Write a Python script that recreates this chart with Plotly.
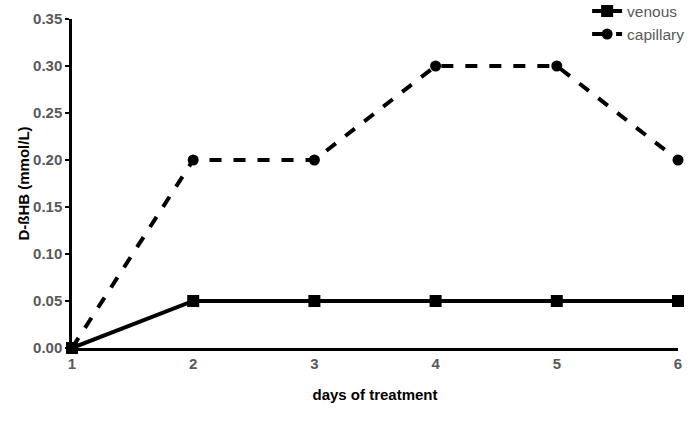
import plotly.graph_objects as go

days = [1, 2, 3, 4, 5, 6]
venous = [0.0, 0.05, 0.05, 0.05, 0.05, 0.05]
capillary = [0.0, 0.20, 0.20, 0.30, 0.30, 0.20]
y_ticks = [0.0, 0.05, 0.10, 0.15, 0.20, 0.25, 0.30, 0.35]

fig = go.Figure()
fig.add_trace(go.Scatter(x=days, y=venous, name="venous", mode="lines+markers",
                         line=dict(color="black", width=4),
                         marker=dict(symbol="square", size=12, color="black"),
                         cliponaxis=False))
fig.add_trace(go.Scatter(x=days, y=capillary, name="capillary", mode="lines+markers",
                         line=dict(color="black", width=4, dash="dash"),
                         marker=dict(symbol="circle", size=11, color="black"),
                         cliponaxis=False))

font = "Liberation Sans, Arial, sans-serif"
fig.update_layout(
    width=691, height=433,
    margin=dict(l=72, r=13, t=19, b=85, autoexpand=False),
    plot_bgcolor="white", paper_bgcolor="white",
    font=dict(family=font, color="#595959", size=13),
    showlegend=True,
    legend=dict(x=1.02, y=1.075, xanchor="right", yanchor="top",
                font=dict(size=15.5, color="#595959"), bgcolor="rgba(0,0,0,0)",
                tracegroupgap=0),
    xaxis=dict(range=[1, 6], tickvals=days, ticktext=[str(d) for d in days],
               showgrid=False, zeroline=False, showline=True, linecolor="black", linewidth=2.5,
               ticks="", automargin=False,
               tickfont=dict(family=font, size=15, color="#595959", weight="bold"),
               title=dict(text="days of treatment", font=dict(family=font, size=15, color="black", weight="bold"), standoff=19)),
    yaxis=dict(range=[0, 0.35], tickvals=y_ticks, ticktext=[f"{v:.2f}" for v in y_ticks],
               showgrid=False, zeroline=False, showline=True, linecolor="black", linewidth=2.5,
               ticks="outside", ticklen=4, tickwidth=2, tickcolor="black", automargin=False,
               tickfont=dict(family=font, size=15, color="#595959", weight="bold"),
               title=dict(text="D-ßHB (mmol/L)", font=dict(family=font, size=15, color="black", weight="bold"), standoff=0)),
)

fig.write_html("out.html", config={"displayModeBar": False})
with open("out.html", "r", encoding="utf-8") as f:
    html = f.read()
html = html.replace("<body>", '<body style="margin:0;padding:0">', 1)
html = html.replace("<head>", "<head><style>html,body{margin:0;padding:0;overflow:hidden}</style>", 1)
with open("out.html", "w", encoding="utf-8") as f:
    f.write(html)
